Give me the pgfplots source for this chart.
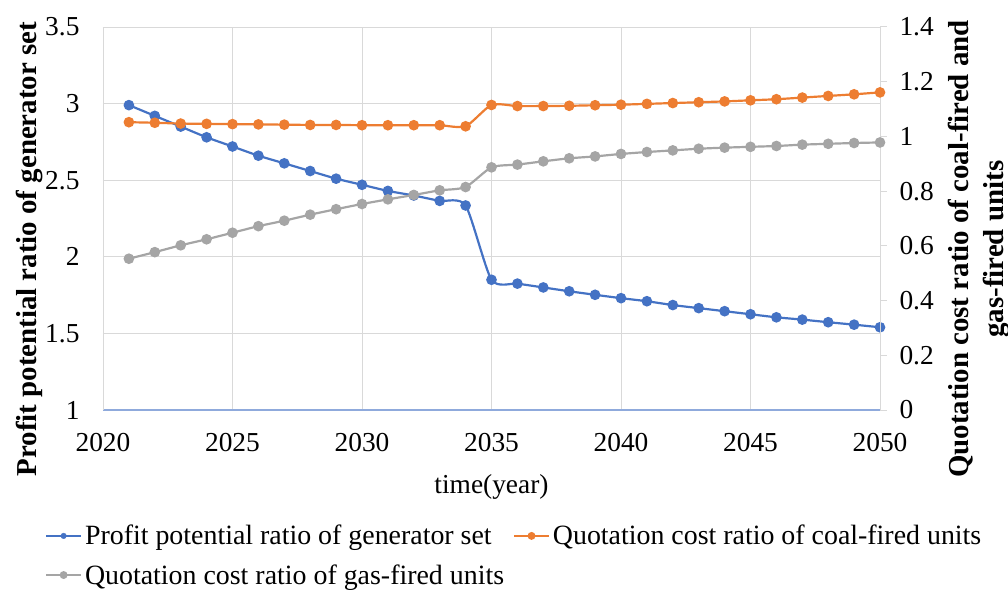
\documentclass[border=0pt]{standalone}
\usepackage{pgfplots}
\pgfplotsset{compat=1.18}
\usepackage{fontspec}
\setmainfont{Liberation Serif}
\definecolor{cblue}{HTML}{4472C4}
\definecolor{corange}{HTML}{ED7D31}
\definecolor{cgray}{HTML}{A5A5A5}
\definecolor{gridc}{HTML}{D9D9D9}
\definecolor{axblue}{HTML}{8FAADC}
\begin{document}
\begin{tikzpicture}
\pgfplotsset{
  common/.style={
    scale only axis, width=777bp, height=383bp,
    xmin=2020, xmax=2050,
    /pgf/number format/assume math mode=true,
    /pgf/number format/1000 sep={},
    tick label style={font=\fontsize{27.5}{28}\selectfont},
    label style={font=\bfseries\fontsize{29}{35}\selectfont},
  },
  ser/.style={smooth, tension=0.4, line width=2.2pt, mark=*, mark size=4.2pt, mark options={solid}},
}
\begin{axis}[common,
  ymin=1, ymax=3.5, ytick={1,1.5,2,2.5,3,3.5},
  xtick={2020,2025,2030,2035,2040,2045,2050},
  grid=major, grid style={draw=gridc, line width=1pt},
  axis x line*=bottom, axis y line*=left,
  x axis line style={draw=axblue, line width=1.2pt, -},
  y axis line style={draw=gridc, line width=1pt, -},
  major tick length=0pt,
  xlabel={\mdseries\fontsize{27.5}{28}\selectfont time(year)},
  ylabel={Profit potential ratio of generator set},
  xticklabel style={yshift=-20bp},
  yticklabel style={xshift=-20bp},
  ylabel style={at={(axis description cs:-0.094,0.42)}, anchor=center},
  xlabel style={at={(axis description cs:0.5,-0.2)}, anchor=center},
]
\addplot[ser, color=cblue] coordinates {
(2021,2.99)(2022,2.92)(2023,2.85)(2024,2.78)(2025,2.72)(2026,2.66)(2027,2.61)(2028,2.56)(2029,2.51)(2030,2.47)
(2031,2.43)(2032,2.40)(2033,2.365)(2034,2.335)(2035,1.85)(2036,1.825)(2037,1.80)(2038,1.775)(2039,1.752)(2040,1.73)
(2041,1.71)(2042,1.685)(2043,1.665)(2044,1.645)(2045,1.625)(2046,1.605)(2047,1.59)(2048,1.573)(2049,1.557)(2050,1.54)};
\end{axis}
\begin{axis}[common,
  ymin=0, ymax=1.4, ytick={0,0.2,0.4,0.6,0.8,1,1.2,1.4},
  axis x line=none, axis y line*=right,
  y axis line style={draw=gridc, line width=1pt, -},
  ytick style={draw=gridc, line width=1pt},
  tick align=outside, major tick length=7bp,
  yticklabel style={xshift=9bp},
  ylabel={Quotation cost ratio of coal-fired and\\gas-fired units},
  ylabel style={align=center, at={(axis description cs:1.127,0.42)}, anchor=center},
  legend columns=2,
  legend style={at={(axis description cs:-0.0746,-0.298)}, anchor=north west, draw=none, fill=none,
    inner sep=0pt, nodes={inner sep=1bp},
    font=\fontsize{28}{28}\selectfont, column sep=2bp, row sep=16bp,
    /tikz/every even column/.append style={column sep=8bp}},
  legend cell align=left,
  legend image code/.code={\draw[#1, line width=1.8pt] (0bp,0bp)--(35bp,0bp);\draw[#1, mark size=2.8pt] plot coordinates {(17.5bp,0bp)};},
]
\addlegendimage{color=cblue, mark=*}
\addlegendentry{Profit potential ratio of generator set}
\addplot[ser, color=corange] coordinates {
(2021,1.052)(2022,1.050)(2023,1.047)(2024,1.046)(2025,1.045)(2026,1.044)(2027,1.043)(2028,1.042)(2029,1.042)(2030,1.041)
(2031,1.041)(2032,1.041)(2033,1.041)(2034,1.037)(2035,1.115)(2036,1.111)(2037,1.111)(2038,1.112)(2039,1.114)(2040,1.116)
(2041,1.119)(2042,1.122)(2043,1.125)(2044,1.128)(2045,1.132)(2046,1.136)(2047,1.142)(2048,1.148)(2049,1.154)(2050,1.161)};
\addlegendentry{Quotation cost ratio of coal-fired units}
\addplot[ser, color=cgray] coordinates {
(2021,0.553)(2022,0.577)(2023,0.602)(2024,0.624)(2025,0.648)(2026,0.672)(2027,0.692)(2028,0.714)(2029,0.734)(2030,0.753)
(2031,0.770)(2032,0.786)(2033,0.803)(2034,0.815)(2035,0.887)(2036,0.897)(2037,0.909)(2038,0.920)(2039,0.927)(2040,0.936)
(2041,0.943)(2042,0.949)(2043,0.955)(2044,0.959)(2045,0.962)(2046,0.965)(2047,0.970)(2048,0.973)(2049,0.976)(2050,0.978)};
\addlegendentry{Quotation cost ratio of gas-fired units}
\end{axis}
\pgfresetboundingbox
\path (-103bp,-180bp) rectangle (905bp,410bp);
\end{tikzpicture}
\end{document}
